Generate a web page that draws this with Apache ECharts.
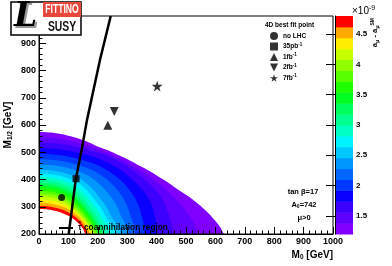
<!DOCTYPE html>
<html><head><meta charset="utf-8">
<script src="https://cdn.jsdelivr.net/npm/echarts@6/dist/echarts.min.js"></script>
<style>html,body{margin:0;padding:0;background:#fff}#c{width:392px;height:266px}</style>
</head><body><div id="c"></div>
<script>
// ---------------- data ----------------
// key contour levels of (a_mu - a_mu^SM) [x1e-9] and their curves (M0, M1/2) in GeV
const contourLevels = [4.8, 4.5, 4.0, 3.1, 2.5, 2.0, 1.6, 1.2];
const contour48 = [[0,291],[45,287],[85,274],[115,257],[135,238],[150,218],[157,200]];
const contour45 = [[0,310],[55,304],[100,288],[130,266],[150,243],[163,220],[172,200]];
const contour40 = [[0,343],[55,337],[85,324],[120,296],[150,262],[172,230],[190,200]];
const contour31 = [[0,392],[60,384],[105,365],[140,330],[170,290],[198,245],[220,200]];
const contour25 = [[0,432],[85,420],[145,393],[180,357],[200,328],[238,262],[275,200]];
const contour20 = [[0,485],[110,472],[200,440],[265,392],[305,335],[328,270],[340,200]];
const contour16 = [[0,530],[130,516],[250,476],[340,412],[405,340],[428,270],[435,200]];
const contour12 = [[0,575],[65,569],[133,551],[201,520],[269,490],[337,453],[405,411],[473,362],[541,311],[590,260],[615,228],[628,200]];

// palette (20 contour bands from zMin to zMax)
const zMin = 1.2, zMax = 4.8, nBands = 20;
const bandColors = ['#8000ff','#6000ff','#3c00ff','#0a00ff','#0038ff','#0068ff','#0098ff','#00c8ff','#00f4ff','#00ffc4',
                    '#00ff90','#00ff5c','#00ff20','#20ff00','#58ff00','#90ff00','#c8ff00','#ffee00','#ffaa00','#ff6400'];
const topColor = '#ff0000';
const zTickValues = [1.5, 2, 2.5, 3, 3.5, 4, 4.5];

// best fit points
const fitNoLHC = [[77, 334]];
const fit35pb  = [[126, 403]];
const fit1fb   = [[234, 599]];
const fit2fb   = [[256, 650]];
const fit7fb   = [[402, 743]];

// stau coannihilation line
const coannLine = [[101,200],[113,300],[125,400],[145,508],[163,617],[207,837],[244,1000]];

// ---------------- geometry helpers ----------------
const keyContours = [contour48, contour45, contour40, contour31, contour25, contour20, contour16, contour12];
function polarOf(p){ const X = p[0]/1000, Y = (p[1]-200)/800; return [Math.atan2(Y, X), Math.hypot(X, Y)]; }
const keyPolar = keyContours.map(c => c.map(polarOf).sort((a,b) => a[0]-b[0]));
function radiusAt(pol, phi){
  if (phi <= pol[0][0]) return pol[0][1];
  for (let i = 1; i < pol.length; i++) {
    if (phi <= pol[i][0]) { const a = pol[i-1], b = pol[i]; const f = (phi-a[0])/(b[0]-a[0]); return a[1] + f*(b[1]-a[1]); }
  }
  return pol[pol.length-1][1];
}
const NPHI = 90;
const phis = []; for (let i = 0; i <= NPHI; i++) phis.push(Math.PI/2*(1 - i/NPHI));
function contourAt(t){
  let j = 0; while (j < contourLevels.length-2 && t < contourLevels[j+1]) j++;
  const f = Math.min(1, Math.max(0, (contourLevels[j]-t)/(contourLevels[j]-contourLevels[j+1])));
  return phis.map(phi => { const r0 = radiusAt(keyPolar[j], phi), r1 = radiusAt(keyPolar[j+1], phi); const r = r0 + f*(r1-r0);
    return [r*Math.cos(phi)*1000, 200 + r*Math.sin(phi)*800]; });
}
const bandStep = (zMax - zMin)/nBands;
const bandCurves = []; for (let k = 0; k < nBands; k++) bandCurves.push(contourAt(zMin + k*bandStep));
const innerCurve = contourAt(zMax);
const bandIndex = []; for (let k = 0; k <= nBands; k++) bandIndex.push([k]);
const colorIndex = []; for (let k = 0; k < nBands; k++) colorIndex.push([k]);
const paletteColors = bandColors.slice(0, nBands-1).concat([topColor]);

const starPath = 'path://M50,0L61,35L98,35L68,57L79,91L50,70L21,91L32,57L2,35L39,35Z';
const downTri = 'path://M0,0L10,0L5,10Z';
const FONT = 'Liberation Sans';
const txt = {fontFamily: FONT, fontWeight: 'bold', color: '#000'};

const chart = echarts.init(document.getElementById('c'));
chart.setOption({
  animation: false,
  backgroundColor: '#fff',
  grid: [
    {left: 39, top: 16, width: 294, height: 218, show: true, borderColor: '#000', borderWidth: 1, backgroundColor: 'transparent', z: 10, outerBoundsMode: 'none', containLabel: false},
    {left: 335, top: 16, width: 18, height: 218, outerBoundsMode: 'none', containLabel: false}
  ],
  xAxis: [
    {gridIndex: 0, type: 'value', min: 0, max: 1000, interval: 100, z: 10,
     axisLine: {lineStyle: {color: '#000', width: 1}},
     axisTick: {inside: true, length: 7, lineStyle: {color: '#000'}},
     minorTick: {show: true, splitNumber: 5, length: 3.5, lineStyle: {color: '#000'}},
     splitLine: {show: false},
     axisLabel: Object.assign({fontSize: 9, margin: 3, formatter: v => String(v)}, txt),
     name: 'M{sub|0} [GeV]', nameLocation: 'end', nameGap: 0, nameMoveOverlap: false,
     nameTextStyle: Object.assign({fontSize: 10, align: 'right', verticalAlign: 'top', padding: [15, 0, 0, 0],
       rich: {sub: {fontFamily: FONT, fontWeight: 'bold', fontSize: 6.5, padding: [5, 0, 0, 0]}}}, txt)},
    {gridIndex: 1, type: 'value', min: 0, max: 1, show: false}
  ],
  yAxis: [
    {gridIndex: 0, type: 'value', min: 200, max: 1000, interval: 100, z: 10,
     axisLine: {lineStyle: {color: '#000', width: 1}},
     axisTick: {inside: true, length: 7, lineStyle: {color: '#000'}},
     minorTick: {show: true, splitNumber: 5, length: 3.5, lineStyle: {color: '#000'}},
     splitLine: {show: false},
     axisLabel: Object.assign({fontSize: 9, margin: 3, formatter: v => String(v)}, txt),
     name: 'M{sub|1/2} [GeV]', nameLocation: 'middle', nameRotate: 90, nameGap: 25, nameMoveOverlap: false,
     nameTextStyle: Object.assign({fontSize: 10, rich: {sub: {fontFamily: FONT, fontWeight: 'bold', fontSize: 6.5, padding: [5, 0, 0, 0]}}}, txt)},
    {gridIndex: 1, type: 'value', min: zMin, max: zMax, position: 'right', z: 10,
     axisLine: {show: true, lineStyle: {color: '#000', width: 1}},
     axisTick: {inside: true, length: 9, customValues: zTickValues, lineStyle: {color: '#000'}},
     axisLabel: Object.assign({fontSize: 8, margin: 3, customValues: zTickValues}, txt),
     splitLine: {show: false}}
  ],
  legend: [
    {orient: 'vertical', left: 265, top: 27, itemWidth: 8, itemHeight: 8, itemGap: 2, selectedMode: false,
     data: [{name: 'no LHC', icon: 'circle'}, {name: '35pb', icon: 'rect'}, {name: '1fb', icon: 'triangle'},
            {name: '2fb', icon: downTri}, {name: '7fb', icon: starPath}],
     formatter: n => n === 'no LHC' ? n : n + '{sup|-1}',
     textStyle: Object.assign({fontSize: 6.5, rich: {sup: {fontFamily: FONT, fontWeight: 'bold', fontSize: 4.5, padding: [0, 0, 4, 0]}}}, txt)},
    {left: 54, top: 219, itemWidth: 14, itemHeight: 2, selectedMode: false,
     data: [{name: 'τ̃ coannihilation region', icon: 'rect'}],
     textStyle: Object.assign({fontSize: 8.3}, txt)}
  ],
  series: [
    {type: 'custom', name: 'a_mu field', xAxisIndex: 0, yAxisIndex: 0, data: bandIndex, z: 1, silent: true,
     renderItem: (params, api) => {
       const k = api.value(0);
       const curve = k < nBands ? bandCurves[k] : innerCurve;
       const pts = [api.coord([0, 200])].concat(curve.map(p => api.coord(p)));
       return {type: 'polygon', shape: {points: pts}, style: {fill: k < nBands ? paletteColors[k] : '#ffffff'}};
     }},
    {type: 'custom', name: 'palette', xAxisIndex: 1, yAxisIndex: 1, data: colorIndex, z: 1, silent: true,
     renderItem: (params, api) => {
       const k = api.value(0);
       const p0 = api.coord([0, zMin + (k+1)*bandStep]), p1 = api.coord([1, zMin + k*bandStep]);
       return {type: 'rect', shape: {x: p0[0], y: p0[1], width: p1[0]-p0[0], height: p1[1]-p0[1] + 0.5}, style: {fill: paletteColors[k]}};
     }},
    {type: 'line', name: 'τ̃ coannihilation region', data: coannLine, showSymbol: false, symbol: 'none', z: 5,
     lineStyle: {color: '#000', width: 2.5}, itemStyle: {color: '#000'}},
    {type: 'scatter', name: 'no LHC', data: fitNoLHC, symbol: 'circle', symbolSize: 7, itemStyle: {color: '#000'}, z: 6},
    {type: 'scatter', name: '35pb', data: fit35pb, symbol: 'rect', symbolSize: 7, itemStyle: {color: '#000'}, z: 6},
    {type: 'scatter', name: '1fb', data: fit1fb, symbol: 'triangle', symbolSize: 9, itemStyle: {color: '#000'}, z: 6},
    {type: 'scatter', name: '2fb', data: fit2fb, symbol: downTri, symbolSize: 9, itemStyle: {color: '#000'}, z: 6},
    {type: 'scatter', name: '7fb', data: fit7fb, symbol: starPath, symbolSize: 11, itemStyle: {color: '#000'}, z: 6}
  ],
  graphic: [
    // Fittino logo
    {type: 'rect', z: 100, shape: {x: 11, y: 2, width: 70, height: 33}, style: {fill: '#fff', stroke: '#000', lineWidth: 1.5}},
    {type: 'rect', z: 101, shape: {x: 43, y: 2, width: 38, height: 15}, style: {fill: '#e8483c'}},
    {type: 'text', z: 102, x: 62, y: 9.5, scaleX: 0.66, style: {text: 'FITTINO', fill: '#fff', font: 'bold 13px "Liberation Sans"', align: 'center', verticalAlign: 'middle'}},
    {type: 'text', z: 102, x: 16, y: 3, style: {text: 'L', fill: '#999', font: 'italic bold 33px "DejaVu Serif"'}},
    {type: 'text', z: 103, x: 14, y: 1, style: {text: 'L', fill: '#000', font: 'italic bold 33px "DejaVu Serif"'}},
    {type: 'text', z: 103, x: 62, y: 27.5, scaleX: 0.74, style: {text: 'SUSY', fill: '#111', font: 'bold 14px "Liberation Sans"', align: 'center', verticalAlign: 'middle'}},
    // legend header
    {type: 'text', z: 20, x: 265, y: 25, style: {text: '4D best fit point', font: 'bold 6.5px "Liberation Sans"', fill: '#000', verticalAlign: 'middle'}},
    // parameters
    {type: 'text', z: 20, x: 303, y: 192, style: {text: 'tan β=17', font: 'bold 7.5px "Liberation Sans"', fill: '#000', align: 'center', verticalAlign: 'middle'}},
    {type: 'text', z: 20, x: 304, y: 205, style: {text: 'A{sub|0}=742', font: 'bold 7.5px "Liberation Sans"', fill: '#000', align: 'center', verticalAlign: 'middle',
      rich: {sub: {font: 'bold 5px "Liberation Sans"', padding: [4, 0, 0, 0]}}}},
    {type: 'text', z: 20, x: 304, y: 218, style: {text: 'μ>0', font: 'bold 7.5px "Liberation Sans"', fill: '#000', align: 'center', verticalAlign: 'middle'}},
    // palette multiplier and title
    {type: 'text', z: 20, x: 352, y: 11, style: {text: '×10{sup|-9}', font: '10px "Liberation Sans"', fill: '#000', verticalAlign: 'middle',
      rich: {sup: {font: '7px "Liberation Sans"', padding: [0, 0, 6, 0]}}}},
    {type: 'text', z: 20, x: 375, y: 18, rotation: Math.PI/2, style: {text: 'a{sub|μ} - a{sub|μ}{sup|SM}', font: 'bold 7.5px "Liberation Sans"', fill: '#000', align: 'right', verticalAlign: 'middle',
      rich: {sub: {font: 'bold 5.5px "Liberation Sans"', padding: [4, 0, 0, 0]}, sup: {font: 'bold 5px "Liberation Sans"', padding: [0, 0, 4, 0]}}}}
  ]
});
</script></body></html>
